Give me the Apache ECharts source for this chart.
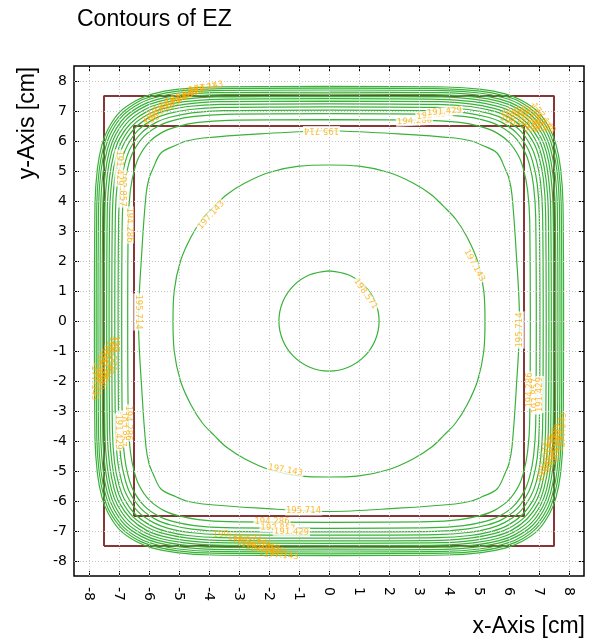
<!DOCTYPE html>
<html>
<head>
<meta charset="utf-8">
<script src="https://cdn.jsdelivr.net/npm/echarts@6/dist/echarts.min.js"></script>
<style>
html, body { margin: 0; padding: 0; background: #fff; }
#chart { width: 596px; height: 640px; }
</style>
</head>
<body>
<div id="chart"></div>
<script>
// Contour levels of EZ, innermost first
const levels = [198.571, 197.143, 195.714, 194.286, 192.857, 191.429, 190, 188.571,
                187.143, 185.714, 184.286, 182.857, 181.429, 180, 178.571, 177.143];

// One octant of each contour (upper-left, from the y axis down to the diagonal), in cm.
// The field is symmetric, so the rest of each closed curve is its mirror image.
const octants = [
  [[0, 1.67], [-0.64, 1.54], [-1.18, 1.18]],
  [[0, 5.2], [-1.0, 5.16], [-2.0, 4.95], [-2.8, 4.6], [-3.4, 4.22], [-3.82, 3.82]],
  [[0, 6.35], [-2.3, 6.24], [-4.2, 6.1], [-4.75, 6.0], [-5.1, 5.86], [-5.6, 5.6]],
  [[0, 6.71], [-3.36, 6.69], [-4.36, 6.62], [-5.03, 6.49], [-5.50, 6.32], [-5.98, 5.98]],
  [[0, 6.91], [-3.46, 6.89], [-4.49, 6.82], [-5.18, 6.69], [-5.67, 6.51], [-6.16, 6.16]],
  [[0, 7.03], [-3.52, 7.01], [-4.57, 6.94], [-5.27, 6.80], [-5.76, 6.62], [-6.26, 6.26]],
  [[0, 7.14], [-3.57, 7.12], [-4.64, 7.05], [-5.36, 6.91], [-5.85, 6.72], [-6.36, 6.36]],
  [[0, 7.24], [-3.62, 7.22], [-4.71, 7.15], [-5.43, 7.01], [-5.94, 6.82], [-6.45, 6.45]],
  [[0, 7.33], [-3.67, 7.31], [-4.76, 7.23], [-5.50, 7.09], [-6.01, 6.90], [-6.53, 6.53]],
  [[0, 7.41], [-3.71, 7.39], [-4.82, 7.31], [-5.56, 7.17], [-6.08, 6.98], [-6.60, 6.60]],
  [[0, 7.49], [-3.75, 7.47], [-4.87, 7.39], [-5.62, 7.25], [-6.14, 7.05], [-6.67, 6.67]],
  [[0, 7.56], [-3.78, 7.54], [-4.91, 7.46], [-5.67, 7.32], [-6.20, 7.12], [-6.74, 6.74]],
  [[0, 7.63], [-3.82, 7.61], [-4.96, 7.53], [-5.72, 7.39], [-6.26, 7.18], [-6.80, 6.80]],
  [[0, 7.70], [-3.85, 7.68], [-5.01, 7.60], [-5.78, 7.45], [-6.31, 7.25], [-6.86, 6.86]],
  [[0, 7.76], [-3.88, 7.74], [-5.04, 7.66], [-5.82, 7.51], [-6.36, 7.31], [-6.91, 6.91]],
  [[0, 7.82], [-3.91, 7.80], [-5.08, 7.72], [-5.87, 7.57], [-6.41, 7.36], [-6.97, 6.97]]
];

// Half-widths of the two square outlines, cm
const outerSquare = 7.5;
const innerSquare = 6.5;

// Axis ticks, cm
const ticks = [-8, -7, -6, -5, -4, -3, -2, -1, 0, 1, 2, 3, 4, 5, 6, 7, 8];

// Contour labels: [level index, x, y, angle in degrees]
const labelSpots = [
  [0, 1.22, 0.9, -55],
  [1, -3.93, 3.53, 48], [1, 4.85, 1.85, -62], [1, -1.45, -4.97, -10],
  [2, -0.25, 6.35, 180], [2, -0.85, -6.33, 0], [2, -6.37, 0.3, -90], [2, 6.37, -0.3, 90],
  [3, -1.9, -6.68, 0], [3, 2.85, 6.66, 3], [3, -6.66, 3.2, -90], [3, 6.7, -2.3, 90], [3, -6.68, -3.4, -90],
  [4, -1.7, -6.9, -2], [4, 3.5, 6.87, 6], [4, -6.88, 4.4, -90], [4, 6.9, -2.5, 90], [4, -6.9, -3.6, -90],
  [5, -1.25, -7.03, -2], [5, 3.85, 6.98, 5], [5, -7.0, 5.1, -90], [5, 7.03, -2.45, 90], [5, -7.02, -3.7, -90],
  [6, -3.6, -7.12, 4], [6, -7.14, -0.75, -90], [6, 7.1, -5.1, 80], [6, -5.9, 6.7, 28], [6, 5.95, 6.67, -29],
  [7, -5.7, 6.92, 26], [7, 6.2, 6.66, -35], [7, -2.8, -7.24, -3], [7, -7.24, -1.1, -90], [7, 7.22, -4.6, 88],
  [8, -5.5, 7.09, 24], [8, 6.35, 6.69, -38], [8, -2.65, -7.33, -3], [8, -7.33, -1.22, -90], [8, 7.31, -4.48, 88],
  [9, -5.3, 7.23, 22], [9, 6.5, 6.7, -41], [9, -2.5, -7.41, -3], [9, -7.41, -1.34, -90], [9, 7.39, -4.36, 88],
  [10, -5.1, 7.36, 20], [10, 6.6, 6.74, -42], [10, -2.35, -7.49, -4], [10, -7.49, -1.46, -90], [10, 7.47, -4.24, 88],
  [11, -4.9, 7.46, 18], [11, 6.75, 6.72, -45], [11, -2.2, -7.56, -4], [11, -7.56, -1.58, -90], [11, 7.54, -4.12, 88],
  [12, -4.7, 7.56, 16], [12, 6.85, 6.74, -46], [12, -2.05, -7.63, -4], [12, -7.63, -1.7, -90], [12, 7.61, -4.0, 88],
  [13, -4.5, 7.65, 14], [13, 6.95, 6.76, -48], [13, -1.9, -7.7, -4], [13, -7.7, -1.82, -90], [13, 7.68, -3.88, 88],
  [14, -4.3, 7.72, 12], [14, 7.05, 6.76, -50], [14, -1.75, -7.76, -4], [14, -7.76, -1.94, -90], [14, 7.74, -3.76, 88],
  [15, -4.1, 7.79, 10], [15, 7.15, 6.76, -53], [15, -1.6, -7.82, -4], [15, -7.82, -2.06, -90], [15, 7.8, -3.64, 88]
];

const GREEN = '#38b238';
const MAROON = '#863636';
const ORANGE = '#ffaa00';

// Upper-left quadrant from the top of the y axis to the left end of the x axis
function quadrant(oct) {
  const q = oct.map(p => [p[0], p[1]]);
  for (let i = oct.length - 2; i >= 0; i--) q.push([-oct[i][1], -oct[i][0]]);
  return q;
}

// Closed curve built from the quadrant and its mirror images
function closedCurve(oct) {
  const q = quadrant(oct);
  const rev = q.slice().reverse();
  const out = [];
  q.forEach(p => out.push([p[0], p[1]]));
  rev.slice(1).forEach(p => out.push([p[0], -p[1]]));
  q.slice(1).forEach(p => out.push([-p[0], -p[1]]));
  rev.slice(1).forEach(p => out.push([-p[0], p[1]]));
  return out;
}

function squareOutline(h) {
  return [[-h, -h], [h, -h], [h, h], [-h, h], [-h, -h]];
}

const series = [];

// dotted grid at every tick
series.push({
  type: 'line', data: [], silent: true, animation: false,
  markLine: {
    silent: true, animation: false, symbol: ['none', 'none'],
    label: { show: false },
    lineStyle: { color: '#c4c4c4', type: [1, 2], width: 1 },
    data: ticks.map(v => ({ xAxis: v })).concat(ticks.map(v => ({ yAxis: v })))
  }
});

[outerSquare, innerSquare].forEach(h => {
  series.push({
    type: 'line', data: squareOutline(h), showSymbol: false, silent: true,
    animation: false, z: 2,
    lineStyle: { color: MAROON, width: 2 }
  });
});

octants.forEach((oct, i) => {
  series.push({
    type: 'line', name: String(levels[i]), data: closedCurve(oct),
    showSymbol: false, smooth: 0.35, silent: true, animation: false, z: 3,
    lineStyle: { color: GREEN, width: 1.2 }
  });
});

series.push({
  type: 'scatter', silent: true, animation: false, z: 5,
  symbolSize: 0,
  data: labelSpots.map(s => ({
    value: [s[1], s[2]],
    label: {
      show: true, position: 'inside', rotate: s[3],
      formatter: String(levels[s[0]]),
      color: ORANGE, fontSize: 8.5, fontFamily: 'DejaVu Sans',
      backgroundColor: s[0] < 6 ? '#ffffff' : 'transparent',
      padding: [0, 1]
    }
  }))
});

const axisCommon = {
  type: 'value', min: -8.5, max: 8.5,
  axisLine: { show: false, onZero: false },
  splitLine: { show: false },
  axisTick: { show: true, inside: true, length: 5, customValues: ticks, lineStyle: { color: '#000', width: 1 } }
};

const option = {
  backgroundColor: '#ffffff',
  animation: false,
  title: {
    text: 'Contours of EZ', left: 72, top: 3,
    textStyle: { fontFamily: 'Liberation Sans', fontSize: 23, fontWeight: 'normal', color: '#000' }
  },
  grid: {
    left: 74, right: 12, top: 66, bottom: 64,
    show: true, borderColor: '#000', borderWidth: 1.5, backgroundColor: '#fff'
  },
  xAxis: [
    Object.assign({}, axisCommon, {
      position: 'bottom',
      axisLabel: { customValues: ticks, rotate: -90, margin: 11, fontSize: 14, color: '#000', fontFamily: 'DejaVu Sans' }
    }),
    Object.assign({}, axisCommon, { position: 'top', axisLabel: { show: false } })
  ],
  yAxis: [
    Object.assign({}, axisCommon, {
      position: 'left',
      axisLabel: { customValues: ticks, margin: 7, fontSize: 14, color: '#000', fontFamily: 'DejaVu Sans' }
    }),
    Object.assign({}, axisCommon, { position: 'right', axisLabel: { show: false } })
  ],
  graphic: [
    {
      type: 'text', x: 16, y: 123, rotation: Math.PI / 2,
      style: { text: 'y-Axis [cm]', fontFamily: 'Liberation Sans', fontSize: 23, fill: '#000',
               textAlign: 'center', textVerticalAlign: 'top' }
    },
    {
      type: 'text', x: 585, y: 638,
      style: { text: 'x-Axis [cm]', fontFamily: 'Liberation Sans', fontSize: 23, fill: '#000',
               textAlign: 'right', textVerticalAlign: 'bottom' }
    }
  ],
  series: series
};

const chart = echarts.init(document.getElementById('chart'), null, { renderer: 'canvas' });
chart.setOption(option);
</script>
</body>
</html>
